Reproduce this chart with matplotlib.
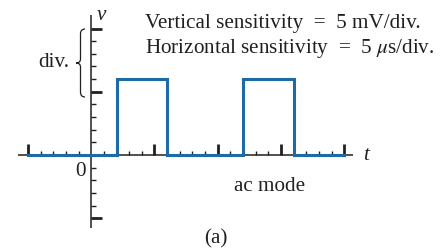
import numpy as np
import matplotlib
matplotlib.use("Agg")
import matplotlib.pyplot as plt
from matplotlib.path import Path
from matplotlib.patches import PathPatch

plt.rcParams['font.family'] = ['Liberation Serif', 'DejaVu Serif']
plt.rcParams['mathtext.fontset'] = 'stix'

# ---- data (in divisions) ----
edge_times = [-1.0, 0.4, 1.2, 2.4, 3.2, 4.0]
levels = [0.0, 1.2, 0.0, 1.2, 0.0, 0.0]
x_major = [-1, 1, 2, 3, 4]
y_major = [2, 1, -1]
minor_step = 0.2
x_axis_range = [-1.16, 4.14]
y_axis_range = [-1.15, 2.21]
title_lines = ["Vertical sensitivity  =  5 mV/div.",
               "Horizontal sensitivity  =  5 $\\mu$s/div."]

W, H = 447, 250
X0, Y0, S = 91.2, 155.0, 63.25  # pixel origin and px per division

def P(px, py):
    return (px - X0) / S, (Y0 - py) / S

ink = '#231f20'
blue = '#1d6aa6'

fig = plt.figure(figsize=(W / 100, H / 100), dpi=100)
ax = fig.add_axes([0, 0, 1, 1])
ax.set_xlim(P(0, 0)[0], P(W, 0)[0])
ax.set_ylim(P(0, H)[1], P(0, 0)[1])
ax.axis('off')

# axes lines
ax.plot(x_axis_range, [0, 0], color=ink, lw=1.1, zorder=2, solid_capstyle='butt')
ax.plot([0, 0], y_axis_range, color=ink, lw=1.1, zorder=2, solid_capstyle='butt')

# x ticks (upward)
xm = np.round(np.arange(-1 + minor_step, 4, minor_step), 6)
xm = [v for v in xm if abs(v - round(v)) > 1e-6]
ax.vlines(xm, 0, 0.07, color=ink, lw=1.0, zorder=2)
ax.vlines(x_major, 0, 0.17, color=ink, lw=2.0, zorder=2)

# y ticks (rightward)
ym = np.round(np.arange(-1 + minor_step, 2, minor_step), 6)
ym = [v for v in ym if abs(v - round(v)) > 1e-6]
ax.hlines(ym, 0, 0.08, color=ink, lw=1.0, zorder=2)
ax.hlines(y_major, 0, 0.17, color=ink, lw=2.0, zorder=2)

# square wave
ax.plot(edge_times, levels, drawstyle='steps-post', color=blue, lw=2.2,
        zorder=3, solid_joinstyle='miter')

fs = 15.2
def txt(px, py, s, **kw):
    x, y = P(px, py)
    ax.text(x, y, s, fontsize=kw.pop('fontsize', fs), color=ink, va='baseline', **kw)

txt(101, 20, 'v', ha='center', fontstyle='italic')
txt(145, 28, title_lines[0], ha='left')
txt(145, 53, title_lines[1], ha='left')
txt(38, 67, 'div.', ha='left')
txt(80, 176, '0', ha='center')
txt(366, 160, 't', ha='center', fontstyle='italic')
txt(234, 191, 'ac mode', ha='left')
txt(216, 243, '(a)', ha='center')

# brace
xe, xm_, xt = 85, 80.5, 76
yt, yc, yb = 29, 63, 97
pts = [(xe, yt), (xm_, yt), (xm_, yt + 5), (xm_, yc - 4), (xm_, yc), (xt, yc),
       (xt, yc), (xm_, yc), (xm_, yc + 4), (xm_, yb - 5), (xm_, yb), (xe, yb)]
codes = [Path.MOVETO, Path.CURVE3, Path.CURVE3, Path.LINETO, Path.CURVE3, Path.CURVE3,
         Path.MOVETO, Path.CURVE3, Path.CURVE3, Path.LINETO, Path.CURVE3, Path.CURVE3]
path = Path([P(*p) for p in pts], codes)
ax.add_patch(PathPatch(path, fill=False, edgecolor=ink, lw=0.9))

fig.savefig('out.png', dpi=100)
